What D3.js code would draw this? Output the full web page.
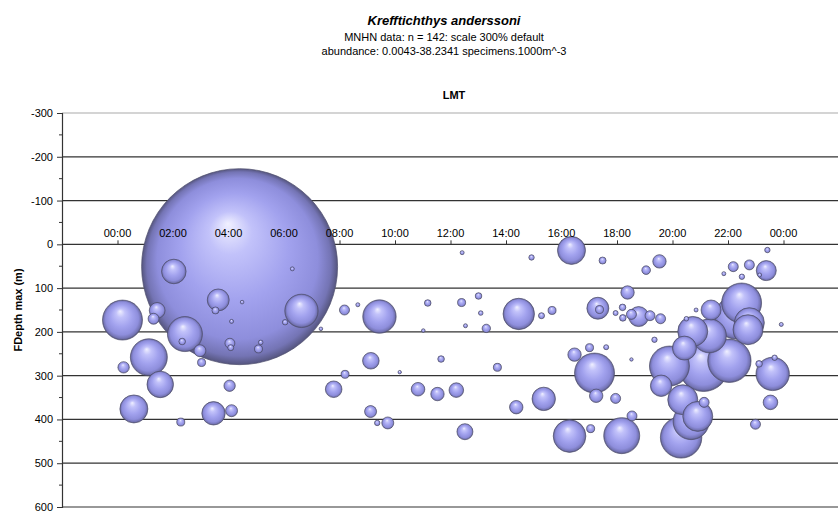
<!DOCTYPE html>
<html>
<head>
<meta charset="utf-8">
<script src="https://cdn.jsdelivr.net/npm/d3@7"></script>
<style>
body { margin: 0; background: #fff; }
svg { display: block; font-family: "Liberation Sans", Arial, sans-serif; }
</style>
</head>
<body>
<svg width="838" height="511"></svg>
<script>
// local mean time of each haul (hours), max depth (m), abundance (specimens.1000m^-3)
var hours = [2.03, 0.18, 1.43, 1.30, 2.43, 2.33, 2.97, 3.03, 3.63, 3.53, 4.11, 4.05, 4.08, 1.13, 0.22,
    1.54, 4.04, 0.59, 2.28, 3.46, 4.11, 4.40, 6.30, 4.49, 6.63, 6.04, 8.18, 8.66, 9.44, 7.33,
    5.16, 5.08, 9.13, 8.20, 10.17, 7.79, 10.83, 9.12, 9.36, 9.74, 12.42, 14.92, 16.36, 17.48, 11.18,
    12.40, 13.01, 13.09, 12.54, 11.02, 13.29, 14.46, 15.28, 15.66, 17.31, 17.37, 11.66, 13.69, 16.47, 17.01,
    17.19, 11.53, 12.21, 14.37, 15.36, 17.25, 12.52, 16.29, 17.05, 19.53, 19.05, 21.85, 18.38, 17.95, 18.20,
    18.21, 18.78, 18.52, 19.19, 19.57, 20.50, 20.85, 21.39, 19.35, 17.61, 18.52, 19.89, 19.59, 17.95, 20.37,
    21.14, 18.54, 18.17, 20.31, 20.67, 20.91, 23.42, 22.19, 22.77, 23.38, 22.50, 23.14, 22.49, 22.30, 22.77,
    22.72, 23.92, 21.33, 20.73, 20.43, 22.05, 21.12, 23.61, 23.12, 23.68, 23.53, 22.99];
var depths = [62, 173, 151, 170, 205, 222, 243, 270, 127, 151, 176, 226, 236, 258, 281,
    320, 323, 376, 406, 386, 380, 51, 56, 132, 152, 178, 150, 138, 165, 193,
    224, 239, 266, 297, 292, 331, 331, 382, 408, 408, 19, 30, 14, 37, 134,
    133, 118, 157, 186, 197, 192, 159, 163, 151, 146, 149, 262, 281, 252, 236,
    294, 342, 333, 372, 353, 346, 428, 438, 421, 39, 59, 67, 110, 157, 144,
    168, 165, 160, 163, 170, 170, 150, 150, 218, 235, 263, 278, 323, 352, 355,
    361, 392, 437, 441, 405, 393, 13, 51, 47, 60, 74, 70, 134, 167, 179,
    195, 183, 209, 199, 237, 266, 279, 296, 273, 259, 361, 411];
var abundance = [0.60, 1.59, 0.25, 0.12, 1.22, 0.043, 0.143, 0.064, 0.48, 0.049, 0.016, 0.10, 0.036, 1.36, 0.129,
    0.70, 0.129, 0.78, 0.064, 0.545, 0.143, 38.2341, 0.016, 0.013, 1.11, 0.029, 0.10, 0.016, 1.11, 0.013,
    0.021, 0.064, 0.274, 0.064, 0.0115, 0.274, 0.184, 0.143, 0.029, 0.143, 0.016, 0.029, 0.78, 0.049, 0.043,
    0.064, 0.043, 0.021, 0.016, 0.013, 0.070, 0.98, 0.036, 0.064, 0.48, 0.064, 0.043, 0.064, 0.179, 0.064,
    1.59, 0.179, 0.212, 0.179, 0.545, 0.179, 0.255, 1.06, 0.064, 0.179, 0.074, 0.016, 0.179, 0.025, 0.043,
    0.043, 0.398, 0.10, 0.10, 0.10, 0.021, 0.016, 0.398, 0.029, 0.025, 0.0115, 1.59, 0.456, 0.10, 0.896,
    0.10, 0.10, 1.29, 1.71, 1.29, 0.896, 0.029, 0.10, 0.10, 0.398, 0.029, 0.016, 1.59, 1.87, 0.896,
    0.896, 0.016, 1.15, 0.896, 0.573, 1.87, 2.49, 1.11, 0.043, 0.029, 0.212, 0.10];

var xTickHours = [0, 2, 4, 6, 8, 10, 12, 14, 16, 18, 20, 22, 24];
var yTicks = [-300, -200, -100, 0, 100, 200, 300, 400, 500, 600];
var yMinorTicks = [-250, -150, -50, 50, 150, 250, 350, 450, 550];

var svg = d3.select('svg');

var x = d3.scaleLinear().domain([-2, 26]).range([62, 839]);
var y = d3.scaleLinear().domain([-300, 600]).range([113, 507]);
var r = d3.scaleSqrt().domain([0, 38.2341]).range([0, 98]);

// bubble shading
var grad = svg.append('defs').append('radialGradient')
    .attr('id', 'ball')
    .attr('cx', '50%').attr('cy', '50%').attr('r', '50%')
    .attr('fx', '44%').attr('fy', '28%');
[[0, '#f0f0ff'], [0.22, '#c2c2fa'], [0.55, '#a2a2ee'], [0.82, '#8e8edc'], [0.94, '#7474b4'], [1, '#55557e']]
    .forEach(function(s) {
        grad.append('stop').attr('offset', s[0]).attr('stop-color', s[1]);
    });

// titles
svg.append('text').attr('x', 444).attr('y', 25).attr('text-anchor', 'middle')
    .style('font-size', '13px').style('font-weight', 'bold').style('font-style', 'italic')
    .text('Krefftichthys anderssoni');
svg.append('text').attr('x', 444).attr('y', 41).attr('text-anchor', 'middle')
    .style('font-size', '11px').text('MNHN data: n = 142: scale 300% default');
svg.append('text').attr('x', 444).attr('y', 55).attr('text-anchor', 'middle')
    .style('font-size', '11px').text('abundance: 0.0043-38.2341 specimens.1000m^-3');
svg.append('text').attr('x', 454).attr('y', 99).attr('text-anchor', 'middle')
    .style('font-size', '11px').style('font-weight', 'bold').text('LMT');

// gridlines
svg.append('g').selectAll('line').data(yTicks).enter().append('line')
    .attr('x1', 62).attr('x2', 838)
    .attr('y1', function(d) { return y(d); }).attr('y2', function(d) { return y(d); })
    .attr('stroke', function(d) { return d === -300 ? '#aaa' : '#333'; })
    .attr('stroke-width', 1.2);

// y axis
var yAxis = d3.axisLeft(y).tickValues(yTicks).tickSize(5).tickPadding(4)
    .tickFormat(function(d) { return String(d); });
var yG = svg.append('g').attr('transform', 'translate(62,0)').call(yAxis);
yG.select('.domain').attr('stroke', '#333').attr('stroke-width', 1.2);
yG.selectAll('.tick line').attr('stroke', '#333');
yG.selectAll('text').style('font-size', '11px').style('font-family', '"Liberation Sans", Arial, sans-serif').attr('fill', '#000');
svg.append('g').selectAll('line').data(yMinorTicks).enter().append('line')
    .attr('x1', 59).attr('x2', 62)
    .attr('y1', function(d) { return y(d); }).attr('y2', function(d) { return y(d); })
    .attr('stroke', '#333');

svg.append('text')
    .attr('transform', 'translate(22,' + ((113 + 507) / 2) + ') rotate(-90)')
    .attr('text-anchor', 'middle')
    .style('font-size', '11px').style('font-weight', 'bold')
    .text('FDepth max (m)');

// time axis sits on the zero depth line: ticks under the bubbles, labels over them
var xAxis = d3.axisTop(x).tickValues(xTickHours).tickSize(4)
    .tickFormat('');
var xG = svg.append('g').attr('transform', 'translate(0,' + y(0) + ')').call(xAxis);
xG.select('.domain').remove();
xG.selectAll('.tick line').attr('stroke', '#333');

// bubbles, biggest first so the small ones stay visible
var points = hours.map(function(h, i) {
    return {hour: h, depth: depths[i], value: abundance[i]};
}).sort(function(a, b) { return b.value - a.value; });

svg.append('g').selectAll('circle').data(points).enter().append('circle')
    .attr('cx', function(d) { return x(d.hour); })
    .attr('cy', function(d) { return y(d.depth); })
    .attr('r', function(d) { return Math.max(r(d.value), 1.2); })
    .attr('fill', 'url(#ball)')
    .attr('stroke', '#50506e')
    .attr('stroke-width', 0.7);

svg.append('g').attr('transform', 'translate(0,' + y(0) + ')')
    .selectAll('text').data(xTickHours).enter().append('text')
    .attr('x', function(d) { return x(d); })
    .attr('y', -7)
    .attr('text-anchor', 'middle')
    .style('font-size', '11px').attr('fill', '#000')
    .text(function(d) { return d3.format('02')(d % 24) + ':00'; });
</script>
</body>
</html>
